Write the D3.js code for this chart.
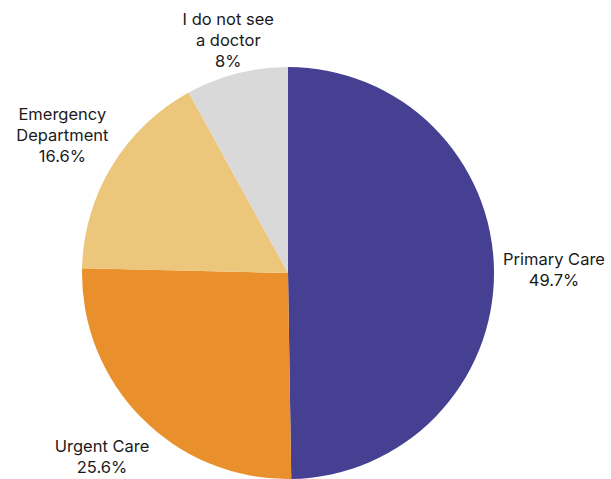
<!DOCTYPE html>
<html>
<head>
<meta charset="utf-8">
<script src="https://cdn.jsdelivr.net/npm/d3@7"></script>
<style>
  html, body { margin: 0; padding: 0; background: #ffffff; }
  svg { display: block; }
  text { font-family: Inter, "Open Sans", sans-serif; fill: #1a1a1a; }
</style>
</head>
<body>
<svg id="chart" width="611" height="479"></svg>
<script>
// Where people go for care (share of respondents)
const categories = ["Primary Care", "Urgent Care", "Emergency Department", "I do not see a doctor"];
const values = [49.7, 25.6, 16.6, 8];
const labelLines = [["Primary Care"], ["Urgent Care"], ["Emergency", "Department"], ["I do not see", "a doctor"]];
const colors = ["#464093", "#E98F2C", "#ECC67B", "#D9D9D9"];

const svg = d3.select("#chart");
const cx = 288, cy = 273, radius = 206;
// distance of each label block from the pie centre
const labelRadii = [266, 262, 264, 240];

const pie = d3.pie().sort(null).value(d => d.value);
const arcs = pie(categories.map((c, i) => ({ name: c, value: values[i], lines: labelLines[i] })));

const arc = d3.arc().innerRadius(0).outerRadius(radius);
const color = d3.scaleOrdinal().domain(categories).range(colors);

const g = svg.append("g").attr("transform", `translate(${cx},${cy})`);

g.selectAll("path")
  .data(arcs)
  .join("path")
  .attr("d", arc)
  .attr("fill", d => color(d.data.name));

const lineH = 21;
const labels = g.selectAll("text.lbl")
  .data(arcs)
  .join("text")
  .attr("class", "lbl")
  .attr("text-anchor", "middle")
  .attr("font-size", 16.5)
  .attr("transform", (d, i) => {
    const r = labelRadii[i];
    const [x, y] = d3.arc().innerRadius(r).outerRadius(r).centroid(d);
    const n = d.data.lines.length + 1;
    return `translate(${x},${y - (n - 1) * lineH / 2 + 5})`;
  });

labels.each(function(d) {
  const t = d3.select(this);
  const lines = d.data.lines.concat([d.data.value + "%"]);
  lines.forEach((l, i) => {
    t.append("tspan").attr("x", 0).attr("dy", i === 0 ? 0 : lineH).text(l);
  });
});
</script>
</body>
</html>
